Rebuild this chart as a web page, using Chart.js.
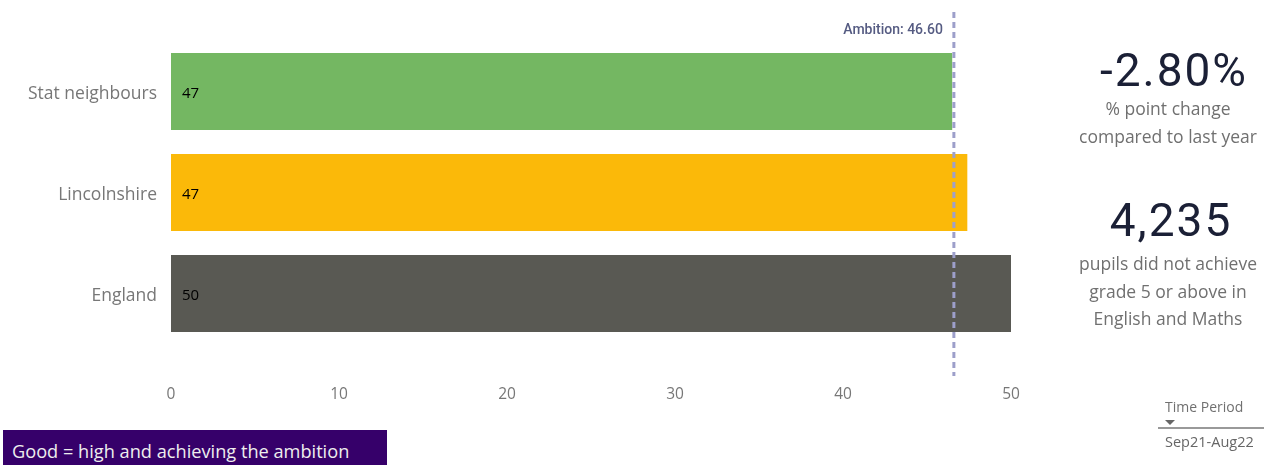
<!DOCTYPE html>
<html>
<head>
<meta charset="utf-8">
<script src="https://cdn.jsdelivr.net/npm/chart.js@4"></script>
<style>
  html, body { margin: 0; padding: 0; background: #fff; }
  #wrap { position: relative; width: 1267px; height: 465px; overflow: hidden; }
  #chart { position: absolute; left: 0; top: 0; }
  .kpi { position: absolute; text-align: center; color: #1b2036; font-family: "Roboto", sans-serif; font-weight: 400; letter-spacing: 2px; }
  .sub { position: absolute; text-align: center; color: #707070; font-family: "Open Sans", sans-serif; font-size: 17.5px; line-height: 27.5px; }
  #good { position: absolute; left: 3px; top: 430px; width: 384px; height: 40px; background: #36006a;
          color: #eee; font-family: "Open Sans", sans-serif; font-size: 18.2px; box-sizing: border-box; padding: 9px 0 0 9px; }
  #tp { position: absolute; left: 1165px; top: 397px; color: #707070; font-family: "Open Sans", sans-serif; font-size: 14px; }
  #tri { position: absolute; left: 1165px; top: 420px; width: 0; height: 0; border-left: 5px solid transparent; border-right: 5px solid transparent; border-top: 5px solid #666; }
  #tpline { position: absolute; left: 1158px; top: 427px; width: 106px; height: 2px; background: #999; }
  #tpval { position: absolute; left: 1165px; top: 432px; color: #666; font-family: "Open Sans", sans-serif; font-size: 14.5px; }
</style>
</head>
<body>
<div id="wrap">
  <canvas id="chart" width="1267" height="465"></canvas>
  <div class="kpi" style="left:1074px; top:43px; width:200px; font-size:46px;">-2.80%</div>
  <div class="sub" style="left:1068px; top:95px; width:200px;">% point change<br>compared to last year</div>
  <div class="kpi" style="left:1071px; top:193px; width:200px; font-size:46px;">4,235</div>
  <div class="sub" style="left:1068px; top:250px; width:200px;">pupils did not achieve<br>grade 5 or above in<br>English and Maths</div>
  <div id="tp">Time Period</div>
  <div id="tri"></div>
  <div id="tpline"></div>
  <div id="tpval">Sep21-Aug22</div>
  <div id="good">Good = high and achieving the ambition</div>
</div>
<script>
const categories = ['Stat neighbours', 'Lincolnshire', 'England'];
const values = [46.5, 47.4, 50.0];
const valueLabels = ['47', '47', '50'];
const barColors = ['#74b762', '#fbb909', '#595953'];
const ambition = 46.6;
const xTicks = [0, 10, 20, 30, 40, 50];

// category labels, value labels inside the bars + ambition line
const overlay = {
  id: 'overlay',
  afterDatasetsDraw(chart) {
    const ctx = chart.ctx;
    const yScale = chart.scales.y;
    const meta = chart.getDatasetMeta(0);
    ctx.save();
    ctx.textBaseline = 'middle';

    ctx.font = '17.5px "Open Sans", sans-serif';
    ctx.fillStyle = '#777';
    ctx.textAlign = 'right';
    categories.forEach((c, i) => {
      ctx.fillText(c, chart.chartArea.left - 14, yScale.getPixelForTick(i) + 3);
    });

    ctx.font = '15px "Open Sans", sans-serif';
    ctx.fillStyle = '#000';
    ctx.textAlign = 'left';
    meta.data.forEach((bar, i) => {
      ctx.fillText(valueLabels[i], chart.chartArea.left + 11, bar.y + 2);
    });

    const x = chart.scales.x.getPixelForValue(ambition);
    ctx.strokeStyle = '#9d9fca';
    ctx.lineWidth = 3;
    ctx.setLineDash([6, 4]);
    ctx.beginPath();
    ctx.moveTo(x, 12);
    ctx.lineTo(x, 376);
    ctx.stroke();
    ctx.setLineDash([]);

    ctx.font = '500 14px "Roboto", sans-serif';
    ctx.fillStyle = '#555b82';
    ctx.textAlign = 'right';
    ctx.fillText('Ambition: ' + ambition.toFixed(2), x - 11, 30);
    ctx.restore();
  }
};

new Chart(document.getElementById('chart'), {
  type: 'bar',
  data: {
    labels: categories,
    datasets: [{
      data: values,
      backgroundColor: barColors,
      barPercentage: 0.76,
      categoryPercentage: 1
    }]
  },
  options: {
    indexAxis: 'y',
    responsive: false,
    animation: false,
    layout: { padding: { top: 41, right: 256, bottom: 61, left: 0 } },
    plugins: { legend: { display: false }, tooltip: { enabled: false } },
    scales: {
      x: {
        min: 0, max: 50,
        afterBuildTicks(scale) { scale.ticks = xTicks.map(v => ({ value: v })); },
        afterFit(scale) { scale.height = 60; },
        grid: { display: false },
        border: { display: false },
        ticks: { color: '#777', padding: 33, font: { family: 'Open Sans', size: 15.5 } }
      },
      y: {
        afterFit(scale) { scale.width = 171; },
        grid: { display: false },
        border: { display: false },
        ticks: { display: false }
      }
    }
  },
  plugins: [overlay]
});
</script>
</body>
</html>
